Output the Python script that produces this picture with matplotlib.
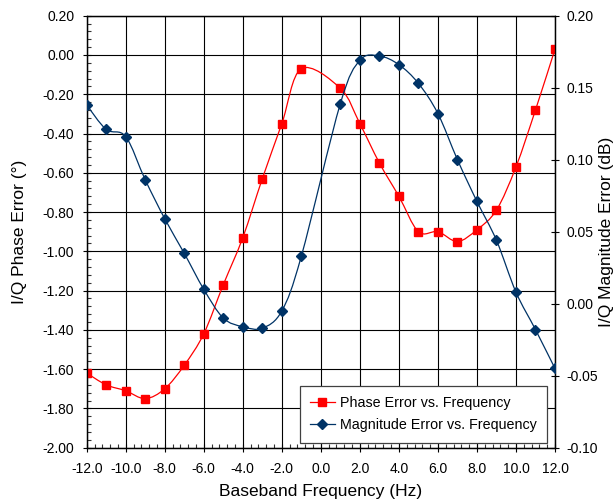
import numpy as np
import matplotlib
matplotlib.use("Agg")
import matplotlib.pyplot as plt
from matplotlib.path import Path
from matplotlib.patches import PathPatch
from matplotlib.lines import Line2D
from matplotlib.ticker import MultipleLocator, FuncFormatter

# Baseband frequency points (Hz); no measurement at 0 Hz
freq = [-12, -11, -10, -9, -8, -7, -6, -5, -4, -3, -2, -1,
        1, 2, 3, 4, 5, 6, 7, 8, 9, 10, 11, 12]

# I/Q phase error (degrees)
phase_err = [-1.62, -1.68, -1.71, -1.75, -1.70, -1.58, -1.42, -1.17, -0.93, -0.63, -0.35, -0.07,
             -0.17, -0.35, -0.55, -0.72, -0.90, -0.90, -0.95, -0.89, -0.79, -0.57, -0.28, 0.03]

# I/Q magnitude error (dB)
mag_err = [0.138, 0.121, 0.116, 0.086, 0.059, 0.035, 0.010, -0.010, -0.016, -0.017, -0.005, 0.033,
           0.139, 0.169, 0.172, 0.166, 0.153, 0.132, 0.100, 0.071, 0.044, 0.008, -0.018, -0.045]

x_ticks = np.arange(-12, 12.1, 2)
left_ticks = np.arange(-2.0, 0.21, 0.2)
right_ticks = np.arange(-0.10, 0.201, 0.05)

plt.rcParams['font.family'] = ['Liberation Sans', 'DejaVu Sans']

RED = '#FF0000'
NAVY = '#003366'


def smooth_curve(x, y):
    """Cubic Bezier path through the points (Catmull-Rom style tangents)."""
    pts = np.column_stack([x, y]).astype(float)
    n = len(pts)
    verts = [pts[0]]
    codes = [Path.MOVETO]
    for i in range(n - 1):
        p0 = pts[max(i - 1, 0)]
        p1 = pts[i]
        p2 = pts[i + 1]
        p3 = pts[min(i + 2, n - 1)]
        c1 = p1 + (p2 - p0) / 6.0
        c2 = p2 - (p3 - p1) / 6.0
        verts += [c1, c2, p2]
        codes += [Path.CURVE4] * 3
    return Path(verts, codes)


def fixed(decimals):
    def fmt(v, pos):
        v = round(v, decimals)
        if v == 0:
            v = 0.0
        return f'{v:.{decimals}f}'
    return FuncFormatter(fmt)


fig = plt.figure(figsize=(6.16, 5.04), dpi=100)
ax = fig.add_axes([0.14075, 0.11171, 0.76023, 0.85714])
ax2 = ax.twinx()

# Phase error on the left axis
ax.add_patch(PathPatch(smooth_curve(freq, phase_err), fill=False,
                       edgecolor=RED, linewidth=0.9, zorder=3))
ax.plot(freq, phase_err, linestyle='none', marker='s', markersize=6,
        color=RED, zorder=4)

# Magnitude error on the right axis
ax2.add_patch(PathPatch(smooth_curve(freq, mag_err), fill=False,
                        edgecolor=NAVY, linewidth=0.9, zorder=3))
ax2.plot(freq, mag_err, linestyle='none', marker='D', markersize=5,
         color=NAVY, zorder=4)

ax.set_xlim(-12, 12)
ax.set_ylim(-2.0, 0.2)
ax2.set_ylim(-0.10, 0.20)

ax.set_xticks(x_ticks)
ax.set_yticks(left_ticks)
ax2.set_yticks(right_ticks)
ax.xaxis.set_major_formatter(fixed(1))
ax.yaxis.set_major_formatter(fixed(2))
ax2.yaxis.set_major_formatter(fixed(2))
ax.xaxis.set_minor_locator(MultipleLocator(0.4))
ax.yaxis.set_minor_locator(MultipleLocator(0.04))
ax2.yaxis.set_minor_locator(plt.NullLocator())

ax.grid(True, which='major', color='black', linewidth=0.8)

for a in (ax, ax2):
    for s in a.spines.values():
        s.set_color('black')
        s.set_linewidth(0.9)

ax.tick_params(which='major', direction='inout', length=5.8, width=0.8,
               labelsize=10, color='black')
ax.tick_params(which='minor', direction='in', length=2.9, width=0.8, color='#333333')
ax.tick_params(axis='y', which='major', pad=6.0)
ax.tick_params(axis='x', which='major', pad=7.5)
ax2.tick_params(axis='y', which='major', direction='inout', length=5.8, width=0.8,
                labelsize=10, pad=5.5)

ax.set_xlabel('Baseband Frequency (Hz)', fontsize=12.5, va='center')
ax.xaxis.set_label_coords(0.5, -0.1025)
ax.set_ylabel('I/Q Phase Error (°)', fontsize=12.5, va='center')
ax.yaxis.set_label_coords(-0.143, 0.5)
ax2.set_ylabel('I/Q Magnitude Error (dB)', fontsize=12.5, va='center')
ax2.yaxis.set_label_coords(1.111, 0.5)

handles = [
    Line2D([], [], color=RED, marker='s', markersize=6, linewidth=0.9),
    Line2D([], [], color=NAVY, marker='D', markersize=5, linewidth=0.9),
]
leg = ax2.legend(handles, ['Phase Error vs. Frequency', 'Magnitude Error vs. Frequency'],
                 loc='lower right', bbox_to_anchor=(0.982, 0.0116), borderaxespad=0,
                 fontsize=10.3, fancybox=False, framealpha=1, edgecolor='#404040',
                 handlelength=1.7, handletextpad=0.35, borderpad=0.72,
                 labelspacing=0.6)
leg.get_frame().set_linewidth(0.9)
leg.set_zorder(10)

fig.savefig('out.png', dpi=100)
